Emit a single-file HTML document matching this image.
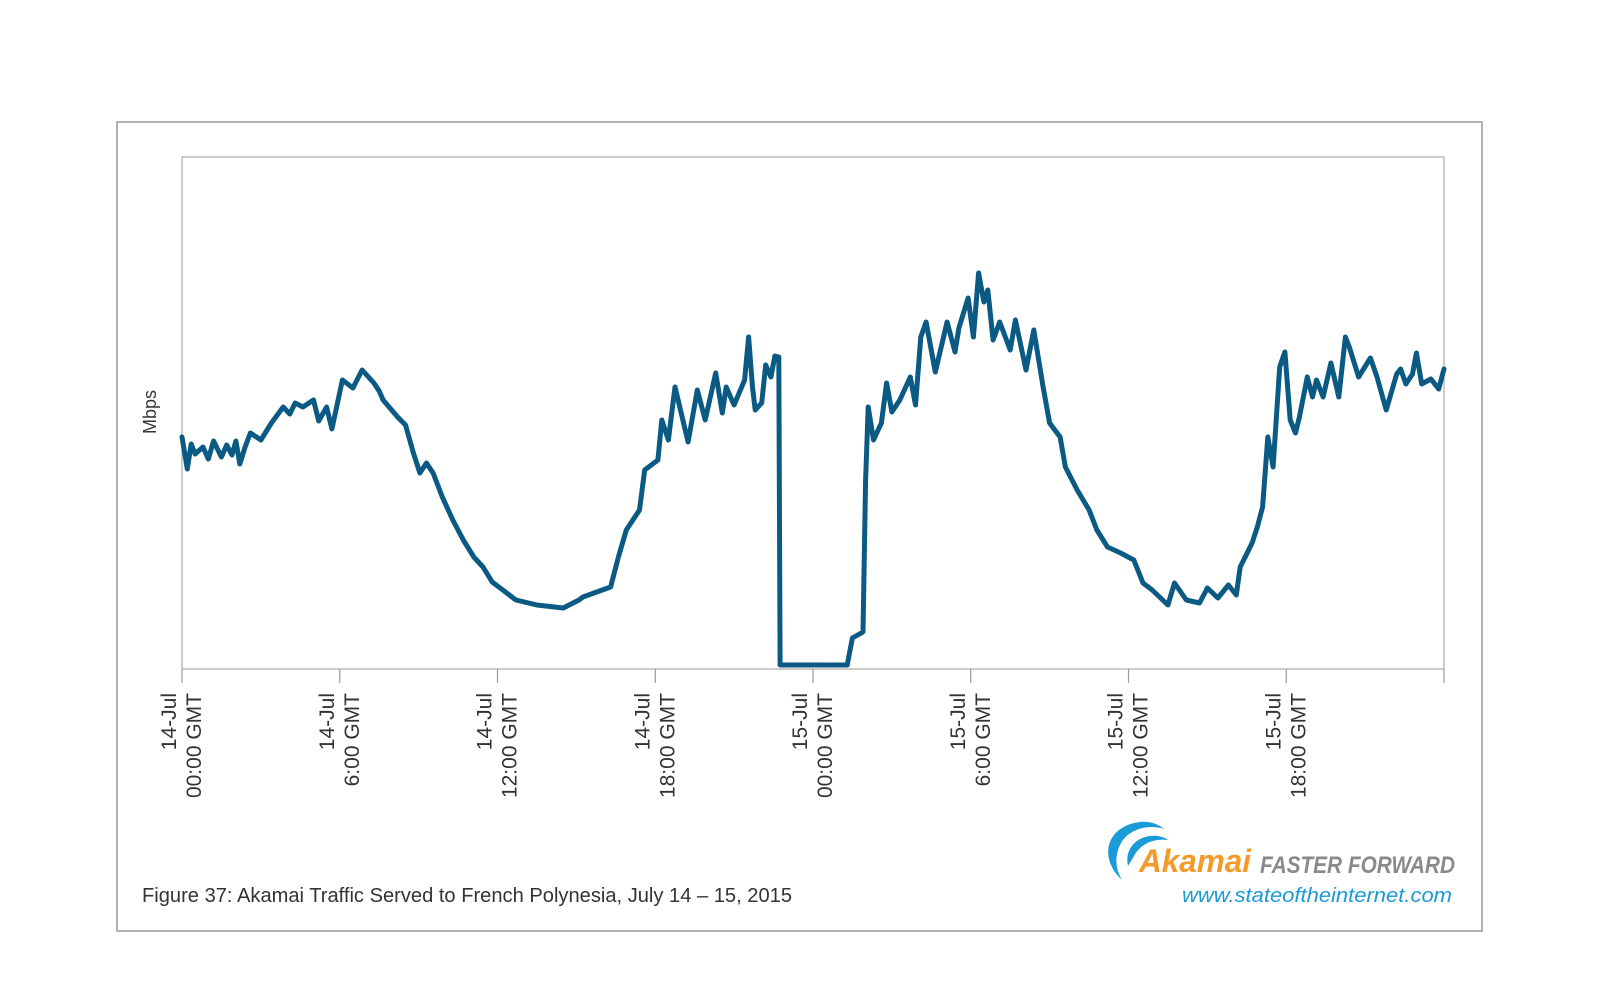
<!DOCTYPE html>
<html><head><meta charset="utf-8"><style>
body{margin:0;width:1600px;height:1000px;background:#fff;overflow:hidden;font-family:"Liberation Sans",sans-serif}
svg{position:absolute;left:0;top:0}
</style></head><body>
<svg width="1600" height="1000" xmlns="http://www.w3.org/2000/svg">
<rect x="117" y="122" width="1365" height="809" fill="none" stroke="#9a9a9a" stroke-width="1.5"/>
<g id="axes"></g>
<g id="series"></g>
<text transform="translate(156,412) rotate(-90)" text-anchor="middle" font-size="18" fill="#333">Mbps</text>
<text x="142" y="902" font-size="20" fill="#333" textLength="650" lengthAdjust="spacingAndGlyphs">Figure 37: Akamai Traffic Served to French Polynesia, July 14 – 15, 2015</text>
<g>
<path d="M1122,880 C1098,858 1106,826 1140,822 C1150,821 1158,824 1164,829 C1150,824 1128,828 1120,845 C1114,858 1116,870 1122,880 Z" fill="#1a9ad6"/>
<path d="M1128,866 C1124,848 1138,834 1158,836 C1162,837 1166,838 1168,840 C1154,838 1140,844 1134,856 Z" fill="#1a9ad6"/>
<text x="1139" y="872" font-size="32" font-weight="bold" font-style="italic" fill="#f39a2b" textLength="112" lengthAdjust="spacingAndGlyphs">Akamai</text>
<text x="1260" y="873" font-size="24" font-weight="bold" font-style="italic" fill="#8a8a8a" textLength="195" lengthAdjust="spacingAndGlyphs">FASTER FORWARD</text>
<text x="1182" y="902" font-size="20" font-style="italic" fill="#1a9ad6" textLength="270" lengthAdjust="spacingAndGlyphs">www.stateoftheinternet.com</text>
</g>
</svg>
<script>
const hours=[0,0.2,0.35,0.5,0.8,1.0,1.2,1.5,1.7,1.9,2.05,2.2,2.4,2.6,3,3.4,3.85,4.1,4.3,4.6,5,5.2,5.5,5.7,6.1,6.5,6.85,7.3,7.5,7.65,8.2,8.5,8.8,9.05,9.3,9.55,9.9,10.3,10.7,11.1,11.45,11.8,12.2,12.7,13.5,14.5,15.1,15.25,16.3,16.6,16.9,17.4,17.6,18.1,18.25,18.5,18.75,19.25,19.6,19.9,20.3,20.55,20.7,21,21.4,21.55,21.7,21.8,22.05,22.2,22.4,22.55,22.7,22.75,25.3,25.5,25.9,26,26.1,26.3,26.6,26.8,27,27.3,27.7,27.9,28.1,28.3,28.65,29.1,29.4,29.55,29.9,30.1,30.3,30.5,30.65,30.85,31.1,31.5,31.7,32.1,32.4,32.75,33,33.4,33.6,34.05,34.5,34.8,35.2,35.7,36.2,36.55,36.9,37.5,37.75,38.2,38.7,39,39.4,39.8,40.1,40.25,40.7,40.9,41.1,41.3,41.5,41.75,41.95,42.15,42.35,42.5,42.8,43,43.15,43.4,43.7,44,44.25,44.4,44.75,45.2,45.45,45.8,46.2,46.35,46.55,46.8,46.95,47.15,47.5,47.8,48];
const mbps=[232,200,225,215,222,210,228,212,224,214,228,205,222,236,229,246,262,255,266,262,269,248,262,240,289,281,299,286,278,269,252,244,216,196,206,196,172,149,129,112,102,87,79,69,64,61,69,72,82,112,139,159,199,209,249,229,282,227,279,249,296,256,282,264,289,332,282,259,266,304,292,313,312,4,4,31,37,189,262,229,246,286,257,269,292,264,332,347,297,347,317,341,371,332,396,367,379,329,347,319,349,299,339,282,246,232,202,179,159,139,122,116,109,86,79,64,86,69,66,81,71,84,74,102,126,142,162,232,202,302,317,249,236,252,292,272,289,272,306,272,332,322,292,311,292,259,295,300,285,295,316,285,290,280,300,285,277,300,287];
const xTickHours=[0,6,12,18,24,30,36,42,48];
const xTickDay=["14-Jul","14-Jul","14-Jul","14-Jul","15-Jul","15-Jul","15-Jul","15-Jul",""];
const xTickTime=["00:00 GMT","6:00 GMT","12:00 GMT","18:00 GMT","00:00 GMT","6:00 GMT","12:00 GMT","18:00 GMT",""];
const yMax=512;
const L=182,R=1444,T=157,B=669;
const NS="http://www.w3.org/2000/svg";
const xS=h=>L+h/48*(R-L);
const yS=v=>B-v/yMax*(B-T);
const axes=document.getElementById('axes');
function mk(tag,attrs,parent){const e=document.createElementNS(NS,tag);for(const k in attrs)e.setAttribute(k,attrs[k]);parent.appendChild(e);return e;}
const box=mk('rect',{x:L,y:T,width:R-L,height:B-T,fill:'none',stroke:'#aaa','stroke-width':1.2},axes);


xTickHours.forEach((h,i)=>{
  const x=xS(h);
  const t=mk('line',{x1:x,x2:x,y1:B,y2:B+14,stroke:'#999','stroke-width':1.2},axes);
  
  
  if(xTickDay[i]){
    const g=mk('text',{transform:`translate(${x-6},693) rotate(-90)`,'text-anchor':'end','font-size':21,fill:'#333'},axes);
    
    
    const a=mk('tspan',{x:0,y:0},g);a.textContent=xTickDay[i];
    const b=mk('tspan',{x:0,y:25},g);b.textContent=xTickTime[i];
  }
});
const d=hours.map((h,i)=>(i?'L':'M')+xS(h).toFixed(1)+','+yS(mbps[i]).toFixed(1)).join(' ');
const p=mk('path',{d:d,fill:'none',stroke:'#0b5a83','stroke-width':5,'stroke-linejoin':'round','stroke-linecap':'round'},document.getElementById('series'));


</script>
</body></html>
